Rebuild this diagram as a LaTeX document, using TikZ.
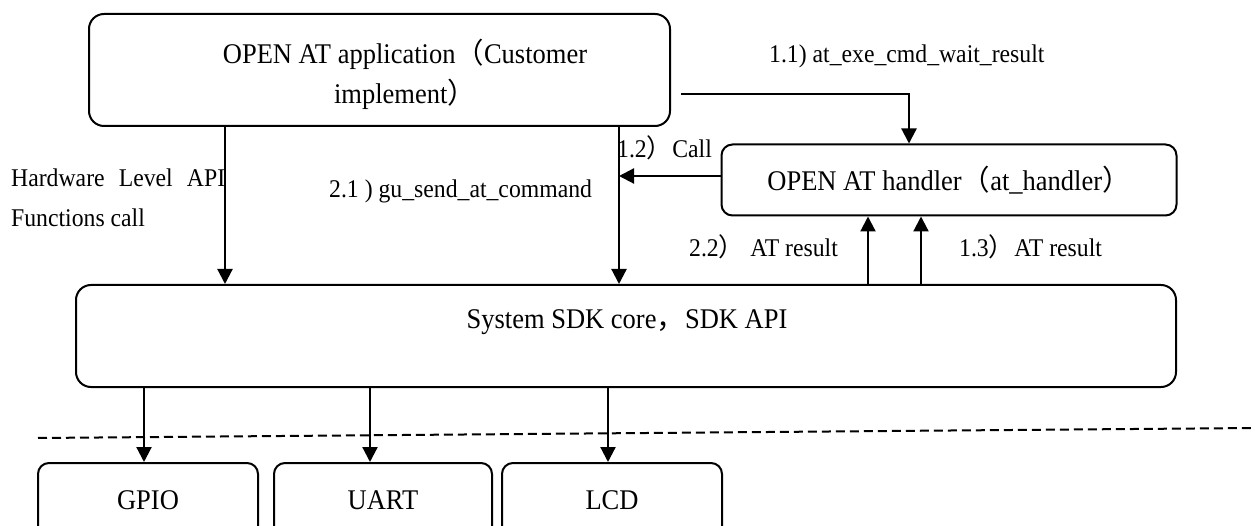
\documentclass[tikz,border=0pt]{standalone}
\usepackage{fontspec}
\setmainfont{Liberation Serif}[FakeStretch=0.93]
\newfontfamily\cjk{Noto Sans CJK SC}
\usetikzlibrary{arrows.meta,calc}
\newcommand{\fp}[1]{{\cjk #1}}
\begin{document}
\begin{tikzpicture}[x=1pt,y=-1pt,
  box/.style={draw,line width=2pt,rounded corners=#1,inner sep=0pt},
  box/.default=14pt,
  boxtxt/.style={font=\fontsize{28.5}{40}\selectfont,inner sep=0pt},
  lbl/.style={font=\fontsize{25.5}{34}\selectfont,inner sep=0pt,anchor=base west},
  arr/.style={line width=2.2pt,-{Triangle[length=15pt,width=15pt]}},
  sep/.style={line width=2pt,dash pattern=on 9pt off 5pt}]
\clip (0,0) rectangle (1255,526);
\fill[white] (0,0) rectangle (1255,526);
% boxes
\node[box=15pt,minimum width=581pt,minimum height=112pt] (app) at (379.5,70) {};
\node[boxtxt,align=center] (apptxt) at (405,74) {OPEN AT application\fp{（}Customer\\implement\fp{）}};
\node[box=11pt,minimum width=455pt,minimum height=71pt,boxtxt] (hdl) at (949,180) {OPEN AT handler\fp{（}at\_handler\fp{）}};
\node[box=15pt,minimum width=1100pt,minimum height=102pt] (sdk) at (626,336) {};
\node[boxtxt] (sdktxt) at (627,322) {System SDK core\fp{，}SDK API};
\node[box=11pt,minimum width=220pt,minimum height=74pt,boxtxt] (gpio) at (148,500) {GPIO};
\node[box=11pt,minimum width=218pt,minimum height=74pt,boxtxt] (uart) at (383,500) {UART};
\node[box=11pt,minimum width=220pt,minimum height=74pt,boxtxt] (lcd) at (612,500) {LCD};
% labels
\node[lbl] (l11) at (769,63) {1.1) at\_exe\_cmd\_wait\_result};
\node[lbl] (l12) at (617,158) {1.2\fp{）}Call};
\node[lbl] (l21) at (329,198) {2.1 ) gu\_send\_at\_command};
\node[lbl] (hw) at (11,187) {\makebox[214pt][s]{Hardware Level API}};
\node[lbl] (fc) at (11,227) {Functions call};
\node[lbl] (l22) at (689,257) {2.2\fp{）} AT result};
\node[lbl] (l13) at (959,257) {1.3\fp{）}AT result};
% helper coordinates
\coordinate (xa) at (225,0);
\coordinate (xb) at (619,0);
\coordinate (xc) at (868,0);
\coordinate (xd) at (921,0);
\coordinate (xe) at (909,0);
\coordinate (s11) at (681,94);
\coordinate (xg) at (144,0);
\coordinate (xu) at (370,0);
\coordinate (xl) at (608,0);
\coordinate (d1) at (38,438);
\coordinate (d2) at (1255,428);
% connectors
\draw[arr] (app.south -| xa) -- (sdk.north -| xa);
\draw[arr] (app.south -| xb) -- (sdk.north -| xb);
\draw[arr] (s11) -| (hdl.north -| xe);
\draw[arr] (hdl.west |- 0,176) -- (xb |- 0,176);
\draw[arr] (sdk.north -| xc) -- (hdl.south -| xc);
\draw[arr] (sdk.north -| xd) -- (hdl.south -| xd);
\draw[arr] (sdk.south -| xg) -- (gpio.north -| xg);
\draw[arr] (sdk.south -| xu) -- (uart.north -| xu);
\draw[arr] (sdk.south -| xl) -- (lcd.north -| xl);
\draw[sep] (d1) -- (d2);
\end{tikzpicture}
\end{document}
